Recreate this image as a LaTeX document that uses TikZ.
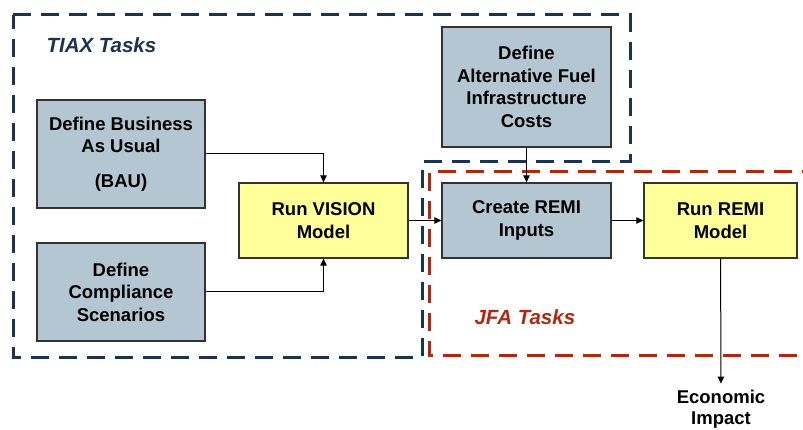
\documentclass[tikz,border=0pt]{standalone}
\usepackage{fontspec}
\setmainfont{Liberation Sans}
\usepackage{tikz}
\usetikzlibrary{arrows.meta, positioning, calc}

\definecolor{tiaxblue}{HTML}{1B3352}
\definecolor{jfared}{HTML}{B0280E}
\definecolor{taskgray}{HTML}{B3C6D1}
\definecolor{modelyellow}{HTML}{FFFF99}

\begin{document}
\begin{tikzpicture}[x=1pt,y=-1pt,
    box/.style={draw=black!80, line width=1.3pt, align=center, inner sep=0pt,
      font=\fontsize{18.5}{22.5}\selectfont\bfseries},
    task/.style={box, fill=taskgray},
    model/.style={box, fill=modelyellow},
    conn/.style={line width=1pt, -{Triangle[length=7pt,width=6.5pt]}},
    region/.style={line width=3pt, dash pattern=on 18pt off 10pt},
    tag/.style={anchor=west, font=\fontsize{20.5}{24}\selectfont\bfseries\itshape}]
  \useasboundingbox (0,0) rectangle (803,430);

  % Dashed task regions
  \draw[region, draw=tiaxblue] (13,15) -- (630,15) -- (630,162) -- (422,162)
    -- (422,357) -- (13,357) -- cycle;
  \draw[region, draw=jfared] (820,172) -- (429,172) -- (429,355) -- (820,355);
  \node[tag, text=tiaxblue] (tiax) at (43,45) {TIAX Tasks};
  \node[tag, text=jfared] (jfa) at (471,317) {JFA Tasks};

  % Boxes
  \node[task, minimum width=168, minimum height=108] (bau) at (121,154)
    {Define Business\\As Usual\\[12pt](BAU)};
  \node[task, minimum width=168, minimum height=98] (comp) at (121,292)
    {Define\\Compliance\\Scenarios};
  \node[model, minimum width=169, minimum height=75] (vision) at (323.5,220.5)
    {Run VISION\\Model};
  \node[task, minimum width=169, minimum height=120] (altfuel) at (526.5,87)
    {Define\\Alternative Fuel\\Infrastructure\\Costs};
  \node[task, minimum width=169, minimum height=75] (remiin) at (526.5,220.5)
    {Create REMI\\Inputs};
  \node[model, minimum width=153, minimum height=75] (remirun) at (720.5,220.5)
    {Run REMI\\Model};
  \node[font=\fontsize{18.5}{21}\selectfont\bfseries, align=center, inner sep=6pt]
    (impact) at (721,409) {Economic\\Impact};

  % Connectors
  \draw[conn] (bau.east) -| (vision.north);
  \draw[conn] (comp.east) -| (vision.south);
  \draw[conn] (vision) -- (remiin);
  \draw[conn] (altfuel) -- (remiin);
  \draw[conn] (remiin) -- (remirun);
  \draw[conn] (remirun) -- (impact);
\end{tikzpicture}
\end{document}
